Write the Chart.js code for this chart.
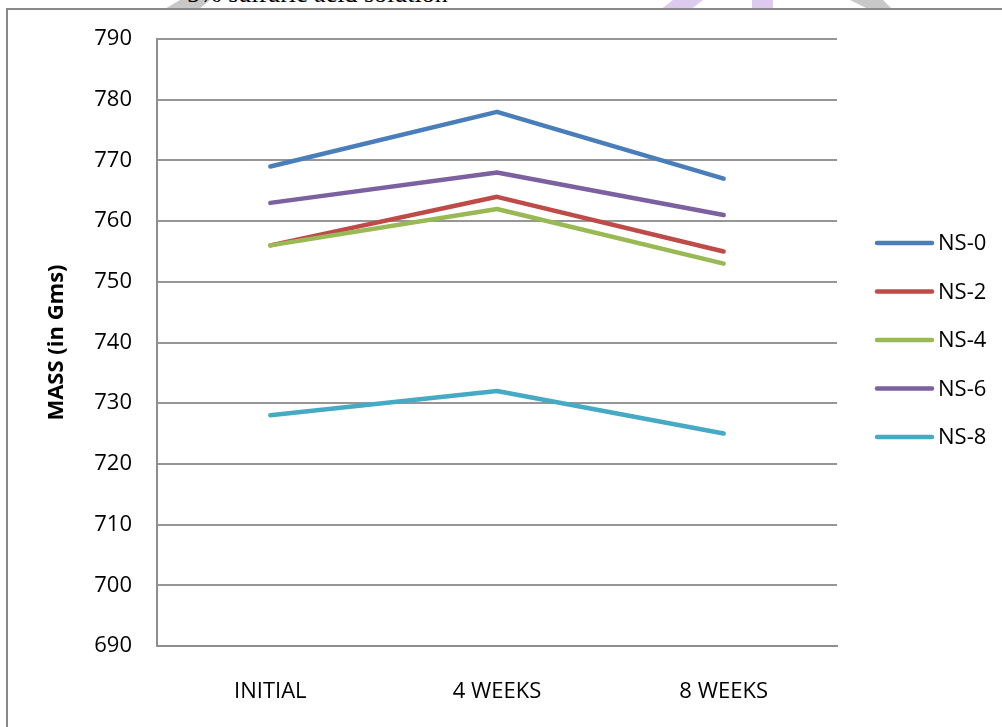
<!DOCTYPE html>
<html>
<head>
<meta charset="utf-8">
<title>Mass loss in 5% sulfuric acid solution</title>
<script src="https://cdn.jsdelivr.net/npm/chart.js@4"></script>
<style>
  body { margin: 0; background: #fff; overflow: hidden; }
  .caption { position: absolute; left: 187px; top: -19px; font: 26px "Liberation Serif", serif; line-height: 26px; color: #000; white-space: nowrap; }
  .mark { position: absolute; left: 0; top: 0; width: 1002px; height: 10px; }
  .frame { position: absolute; left: 6px; top: 8px; width: 1010px; height: 730px; border: 2px solid #898989; background: #fff; }
  .box { position: absolute; left: 0; top: 0; width: 994px; height: 717px; }
</style>
</head>
<body>
<!-- background logo strokes peeking out above the chart frame -->
<div class="mark" style="background:#c8c8c8; clip-path: polygon(163px 10px,198px 10px,210px 0,180px 0);"></div>
<div class="mark" style="background:#dccbef; clip-path: polygon(660px 10px,690px 10px,703px 0,673px 0);"></div>
<div class="mark" style="background:#dccbef; clip-path: polygon(752px 10px,773px 10px,773px 0,752px 0);"></div>
<div class="mark" style="background:#c8c8c8; clip-path: polygon(850px 0,883px 0,893px 10px,870px 10px);"></div>
<div class="caption">5% sulfuric acid solution</div>

<div class="frame">
  <div class="box"><canvas id="massChart"></canvas></div>
</div>

<script>
// categories and readings (mass in grams)
var categories = ['INITIAL', '4 WEEKS', '8 WEEKS'];
var seriesNames = ['NS-0', 'NS-2', 'NS-4', 'NS-6', 'NS-8'];
var ns0 = [769, 778, 767];
var ns2 = [756, 764, 755];
var ns4 = [756, 762, 753];
var ns6 = [763, 768, 761];
var ns8 = [728, 732, 725];
var yMin = 690, yMax = 790, yStep = 10;

var seriesValues = [ns0, ns2, ns4, ns6, ns8];
var seriesColors = ['#4a7ebb', '#be4b48', '#98b954', '#7d60a0', '#46aac5'];

var FONT = '"Open Sans", sans-serif';

// legend at the right, drawn by hand so it sits like the original
var sideLegend = {
  id: 'sideLegend',
  afterDraw: function(chart) {
    var ctx = chart.ctx;
    var x0 = 869, y0 = 233, gap = 48.5;
    ctx.save();
    ctx.font = '22px ' + FONT;
    ctx.textBaseline = 'middle';
    ctx.textAlign = 'left';
    chart.data.datasets.forEach(function(ds, i) {
      var y = y0 + i * gap;
      ctx.strokeStyle = ds.borderColor;
      ctx.lineWidth = 4.5;
      ctx.lineCap = 'round';
      ctx.beginPath();
      ctx.moveTo(x0, y);
      ctx.lineTo(x0 + 55, y);
      ctx.stroke();
      ctx.fillStyle = '#000';
      ctx.fillText(ds.label, x0 + 61, y + 1);
    });
    ctx.restore();
  }
};

var datasets = seriesNames.map(function(name, i) {
  return {
    label: name,
    data: seriesValues[i],
    borderColor: seriesColors[i],
    backgroundColor: seriesColors[i],
    borderWidth: 4.5,
    borderCapStyle: 'round',
    borderJoinStyle: 'round',
    pointRadius: 0,
    tension: 0,
    order: seriesNames.length - i  // later series drawn on top
  };
});

var ctx = document.getElementById('massChart').getContext('2d');
var massChart = new Chart(ctx, {
  type: 'line',
  data: { labels: categories, datasets: datasets },
  options: {
    responsive: true,
    maintainAspectRatio: false,
    animation: false,
    layout: { padding: { left: 0, top: 29, right: 165, bottom: 0 } },
    plugins: {
      legend: { display: false },
      tooltip: { enabled: false }
    },
    scales: {
      x: {
        offset: true,
        grid: { display: false },
        border: { display: true, color: '#8e8e8e', width: 2 },
        ticks: { color: '#000', font: { family: FONT, size: 22 }, padding: 25, maxRotation: 0 },
        afterFit: function(scale) { scale.height = 81; }
      },
      y: {
        min: yMin,
        max: yMax,
        grid: { color: '#969696', lineWidth: 2, drawTicks: false },
        border: { display: true, color: '#8e8e8e', width: 2 },
        ticks: { stepSize: yStep, color: '#000', font: { family: FONT, size: 22 }, padding: 25 },
        title: {
          display: true,
          text: 'MASS (in Gms)',
          color: '#000',
          font: { family: FONT, size: 22, weight: 'bold' },
          padding: { top: 36, bottom: 0 }
        },
        afterFit: function(scale) {
          scale.width = 149;
          // keep the label padding from pushing the plot area down
          scale.paddingTop = 0;
          scale.paddingBottom = 0;
        }
      }
    }
  },
  plugins: [sideLegend]
});
</script>
</body>
</html>
